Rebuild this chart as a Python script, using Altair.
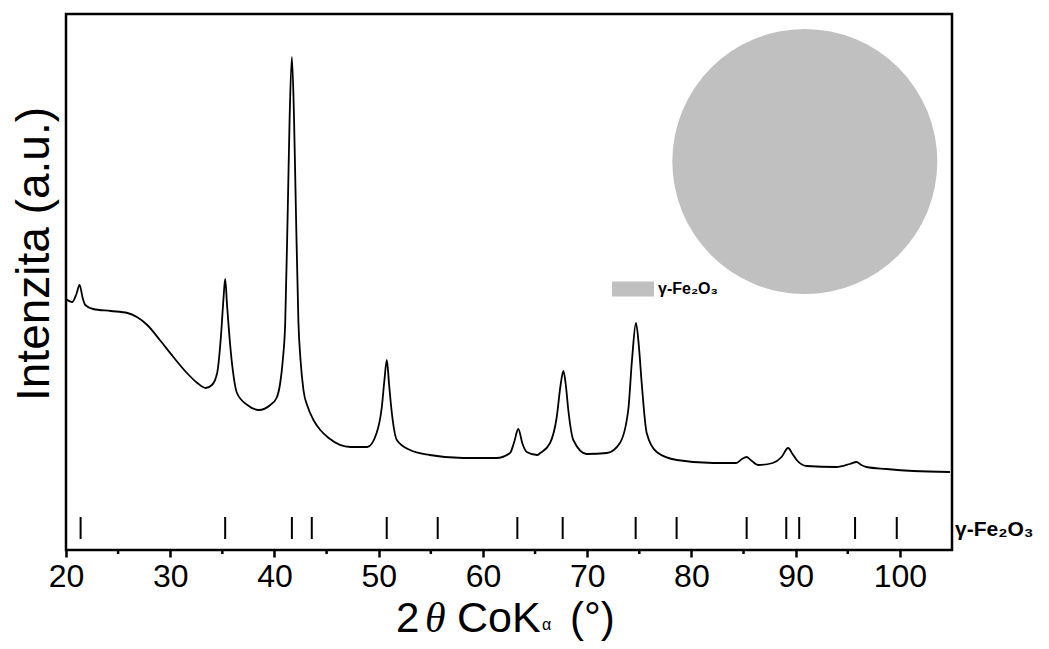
import altair as alt
import pandas as pd

# ---- XRD pattern (2theta in degrees, intensity in arbitrary units) ----
two_theta = [20.0, 20.6, 21.0, 21.3, 21.6, 21.85, 22.6, 24.3, 25.9, 26.8, 27.8, 29.0, 30.3, 31.6,
             32.6, 33.4, 34.0, 34.5, 34.86, 35.1, 35.27, 35.45, 35.75, 36.0, 36.4, 37.4, 38.5,
             39.6, 40.2, 40.55, 40.8, 41.03, 41.28, 41.45, 41.67, 41.88, 42.05, 42.3, 42.5, 42.78,
             43.2, 43.74, 44.4, 45.2, 47.3, 48.9, 49.8, 50.3, 50.55, 50.78, 51.0, 51.26, 51.74,
             53.0, 54.9, 58.1, 61.3, 62.6, 63.0, 63.39, 63.8, 64.2, 65.2, 65.5, 66.44, 67.08,
             67.45, 67.72, 67.95, 68.19, 68.67, 69.95, 71.9, 73.14, 73.94, 74.3, 74.68, 74.95,
             75.23, 75.71, 76.67, 78.6, 82.1, 84.3, 84.85, 85.3, 85.8, 86.4, 87.8, 88.65, 89.28,
             89.7, 90.1, 91.05, 93.9, 95.2, 95.84, 96.3, 96.8, 98.7, 101.3, 104.8]
intensity = [251, 248, 256, 265, 252, 245, 241, 239, 237, 233, 225, 210, 193, 177,
             167, 162, 165, 177, 213, 250, 271, 245, 205, 180, 157, 145, 140,
             145, 152, 167, 190, 227, 343, 430, 493, 430, 343, 227, 190, 160,
             143, 130, 120, 112, 103, 103, 117, 143, 170, 190, 165, 137, 110,
             100, 95, 92, 92, 97, 108, 121, 106, 98, 95, 97, 107, 133,
             165, 179, 165, 140, 110, 96, 97, 107, 140, 190, 227, 205,
             167, 117, 98, 90, 87, 87, 91, 93, 89, 85, 87, 93, 102,
             96, 90, 84, 83, 86, 88, 85, 83, 81, 79, 78]

# ---- reference reflections of gamma-Fe2O3 ----
ref_positions = [21.4, 35.27, 41.67, 43.58, 50.77, 55.66, 63.3, 67.65, 74.65, 78.58,
                 85.3, 89.1, 90.34, 95.7, 99.7]
minor_ticks = [25, 35, 45, 55, 65, 75, 85, 95]
major_ticks = [20, 30, 40, 50, 60, 70, 80, 90, 100]

# ---- pie (phase composition) ----
phases = ["γ-Fe₂O₃"]
shares = [100]

FONT = "Liberation Sans"

xscale = alt.Scale(domain=[20, 105], nice=False, zero=False)
yscale = alt.Scale(domain=[0, 536], nice=False, zero=False)

curve_df = pd.DataFrame({"x": two_theta, "y": intensity})
line = alt.Chart(curve_df).mark_line(color="black", strokeWidth=1.8, interpolate="monotone").encode(
    x=alt.X("x:Q", scale=xscale,
            axis=alt.Axis(values=major_ticks, tickSize=7, tickWidth=2.5, tickColor="black",
                          domain=False, grid=False, labelFontSize=32, labelFont=FONT,
                          labelColor="black", labelBaseline="alphabetic", labelPadding=29,
                          labelFlush=False, title=None)),
    y=alt.Y("y:Q", scale=yscale, axis=None),
)

ref_df = pd.DataFrame({"x": ref_positions})
sticks = alt.Chart(ref_df).mark_rule(color="black", strokeWidth=2).encode(
    x=alt.X("x:Q", scale=xscale),
    y=alt.datum(33, scale=yscale),
    y2=alt.datum(11),
)

minor_df = pd.DataFrame({"x": minor_ticks})
minors = alt.Chart(minor_df).mark_rule(color="black", strokeWidth=2.5).encode(
    x=alt.X("x:Q", scale=xscale),
    y=alt.datum(0, scale=yscale),
    y2=alt.datum(-4),
)

pie_df = pd.DataFrame({"phase": phases, "share": shares})
pie = alt.Chart(pie_df).mark_arc(outerRadius=132.5).encode(
    theta=alt.Theta("share:Q"),
    color=alt.Color("phase:N", scale=alt.Scale(domain=phases, range=["#c0c0c0"]),
                    legend=alt.Legend(title=None, orient="none", legendX=546, legendY=254,
                                      symbolType="M-1,-0.357L1,-0.357L1,0.357L-1,0.357Z",
                                      symbolSize=1764, symbolStrokeWidth=0, symbolOpacity=1,
                                      labelFont=FONT, labelFontWeight="bold", labelFontSize=16,
                                      labelColor="black", labelOffset=4, padding=0)),
    x=alt.value(738.8),
    y=alt.value(147.5),
)


def label(text, x, y, size, font=FONT, style="normal", weight="normal", angle=0,
          align="left", baseline="alphabetic"):
    kw = dict(font=font, fontSize=size, fontStyle=style, fontWeight=weight, color="black",
              align=align, baseline=baseline)
    if angle:
        kw["angle"] = angle
    return alt.Chart(pd.DataFrame({"t": [text]})).mark_text(**kw).encode(
        text="t:N", x=alt.value(x), y=alt.value(y))


TB = 618  # baseline of the x-axis title, relative to the plot top
ytitle = label("Intenzita (a.u.)", -17, 240, 46, angle=270, align="center")
xt_2 = label("2", 330, TB, 42)
xt_theta = label("θ", 359, TB, 42, font="Liberation Serif", style="italic")
xt_cok = label("CoK", 391, TB, 43)
xt_alpha = label("α", 476, TB - 2, 16)
xt_deg = label("(°)", 504, TB, 42)
phase_lbl = label("γ-Fe₂O₃", 889, 516, 21, weight="bold", baseline="middle")

chart = alt.layer(line, sticks, minors, pie, ytitle, xt_2, xt_theta, xt_cok, xt_alpha, xt_deg,
                  phase_lbl).properties(
    width=886, height=536,
    autosize=alt.AutoSizeParams(type="none"),
    padding={"left": 58, "top": 6, "right": 89, "bottom": 91},
    background="white",
).configure_view(stroke="black", strokeWidth=2.5)

chart.save("out.html", embed_options={"renderer": "svg", "actions": False})
